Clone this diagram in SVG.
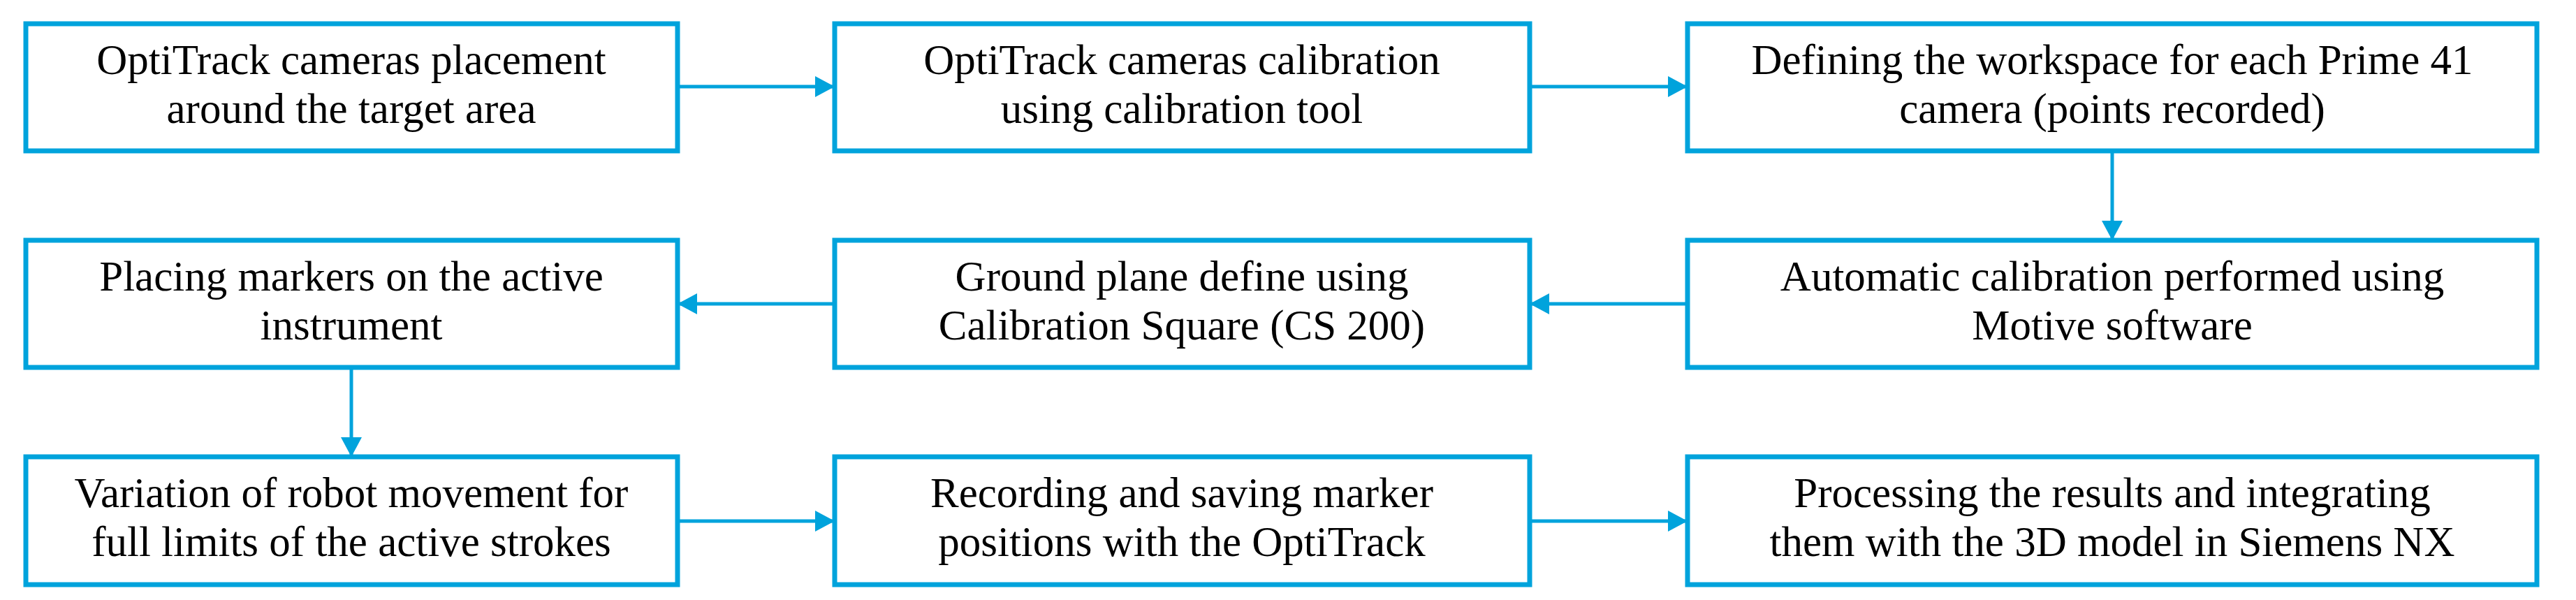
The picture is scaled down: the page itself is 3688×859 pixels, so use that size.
<svg xmlns="http://www.w3.org/2000/svg" width="3688" height="859" viewBox="0 0 3688 859">
<style>
.b{fill:#fff;stroke:#00a3dc;stroke-width:7}
.t{font-family:"Liberation Serif","DejaVu Serif",serif;font-size:61px;fill:#000;text-anchor:middle}
.c{stroke:#00a3dc;stroke-width:5;fill:none}
</style>
<defs><marker id="a" markerUnits="userSpaceOnUse" markerWidth="30" markerHeight="32" refX="28" refY="15" orient="auto"><path d="M0,0 L28,15 L0,30 Z" fill="#00a3dc"/></marker></defs>
<rect width="3688" height="859" fill="#fff"/>
<g id="connectors">
<line class="c" x1="970" y1="124" x2="1195" y2="124" marker-end="url(#a)"/>
<line class="c" x1="2190" y1="124" x2="2416" y2="124" marker-end="url(#a)"/>
<line class="c" x1="3024" y1="216" x2="3024" y2="344" marker-end="url(#a)"/>
<line class="c" x1="2416" y1="435" x2="2190" y2="435" marker-end="url(#a)"/>
<line class="c" x1="1195" y1="435" x2="970" y2="435" marker-end="url(#a)"/>
<line class="c" x1="503" y1="526" x2="503" y2="654" marker-end="url(#a)"/>
<line class="c" x1="970" y1="746" x2="1195" y2="746" marker-end="url(#a)"/>
<line class="c" x1="2190" y1="746" x2="2416" y2="746" marker-end="url(#a)"/>
</g>
<g id="n1"><rect class="b" x="37" y="34" width="933" height="182"/><text class="t" x="503" y="106">OptiTrack cameras placement</text><text class="t" x="503" y="176">around the target area</text></g>
<g id="n2"><rect class="b" x="1195" y="34" width="995" height="182"/><text class="t" x="1692" y="106">OptiTrack cameras calibration</text><text class="t" x="1692" y="176">using calibration tool</text></g>
<g id="n3"><rect class="b" x="2416" y="34" width="1216" height="182"/><text class="t" x="3024" y="106">Defining the workspace for each Prime 41</text><text class="t" x="3024" y="176">camera (points recorded)</text></g>
<g id="n4"><rect class="b" x="2416" y="344" width="1216" height="182"/><text class="t" x="3024" y="416">Automatic calibration performed using</text><text class="t" x="3024" y="486">Motive software</text></g>
<g id="n5"><rect class="b" x="1195" y="344" width="995" height="182"/><text class="t" x="1692" y="416">Ground plane define using</text><text class="t" x="1692" y="486">Calibration Square (CS 200)</text></g>
<g id="n6"><rect class="b" x="37" y="344" width="933" height="182"/><text class="t" x="503" y="416">Placing markers on the active</text><text class="t" x="503" y="486">instrument</text></g>
<g id="n7"><rect class="b" x="37" y="654" width="933" height="183"/><text class="t" x="503" y="726">Variation of robot movement for</text><text class="t" x="503" y="796">full limits of the active strokes</text></g>
<g id="n8"><rect class="b" x="1195" y="654" width="995" height="183"/><text class="t" x="1692" y="726">Recording and saving marker</text><text class="t" x="1692" y="796">positions with the OptiTrack</text></g>
<g id="n9"><rect class="b" x="2416" y="654" width="1216" height="183"/><text class="t" x="3024" y="726">Processing the results and integrating</text><text class="t" x="3024" y="796">them with the 3D model in Siemens NX</text></g>
</svg>
